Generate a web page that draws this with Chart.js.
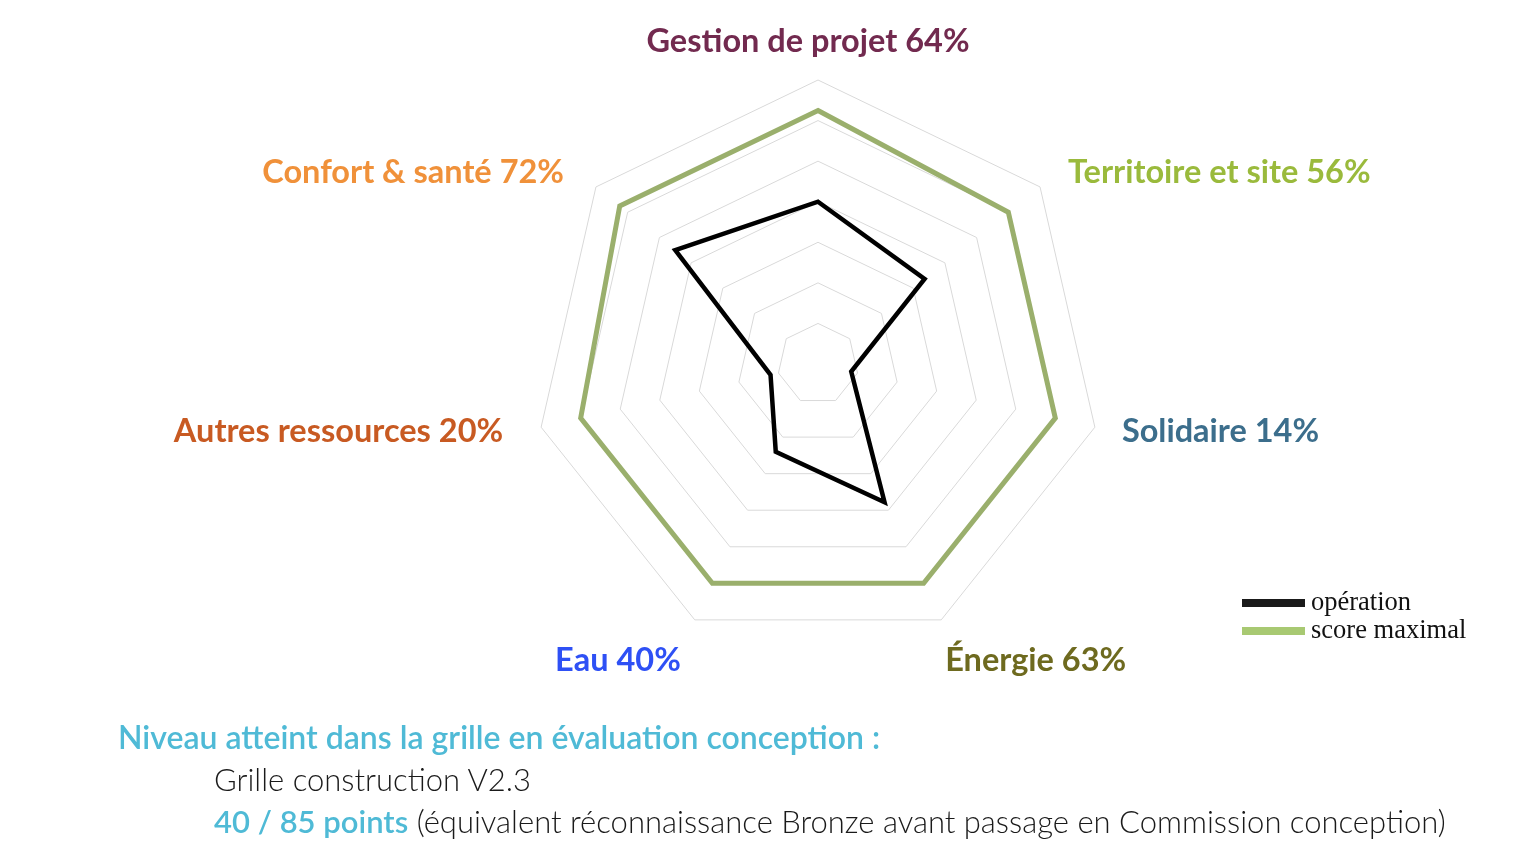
<!DOCTYPE html>
<html>
<head>
<meta charset="utf-8">
<title>Radar</title>
<script src="https://cdn.jsdelivr.net/npm/chart.js@4"></script>
<style>
  html, body { margin: 0; padding: 0; background: #fff; }
  #wrap { position: relative; width: 1528px; height: 864px; overflow: hidden; }
  #radar { position: absolute; left: 0; top: 0; }
  .note { position: absolute; font-family: Lato, "Open Sans", sans-serif; white-space: nowrap; }
  #n1 { left: 118px; top: 717px; font-size: 32px; font-weight: 600; color: #4fbad6; }
  #n2 { left: 214px; top: 760px; font-size: 31px; font-weight: 300; color: #1a1a1a; }
  #n3 { left: 214px; top: 802px; font-size: 31px; font-weight: 300; color: #1a1a1a; }
  #n3 b { font-weight: 600; color: #4fbad6; }
</style>
</head>
<body>
<div id="wrap">
  <canvas id="radar" width="1528" height="864"></canvas>
  <div class="note" id="n1">Niveau atteint dans la grille en évaluation conception :</div>
  <div class="note" id="n2">Grille construction V2.3</div>
  <div class="note" id="n3"><b>40 / 85 points</b> (équivalent réconnaissance Bronze avant passage en Commission conception)</div>
</div>
<script>
const categories = ["Gestion de projet", "Territoire et site", "Solidaire", "Énergie", "Eau", "Autres ressources", "Confort & santé"];
const operation = [8, 6.72, 1.68, 7.56, 4.8, 2.4, 9];
const scoreMax = [12.5, 12, 12, 12, 12, 12, 12.5];
const labelColors = ["#722a4f", "#9aba3c", "#3c6e8c", "#6e6a1f", "#2e50f5", "#c85a22", "#f0913a"];
const seriesNames = ["opération", "score maximal"];

// label placement relative to the outer ring vertex
const labelOffsets = [
    { dx: -10, dy: -38, align: "center" },
    { dx: 28, dy: -14, align: "left" },
    { dx: 27, dy: 4, align: "left" },
    { dx: 4, dy: 41, align: "left" },
    { dx: -14, dy: 41, align: "right" },
    { dx: -38, dy: 4, align: "right" },
    { dx: -32, dy: -14, align: "right" }
];

const axisLabels = {
    id: "axisLabels",
    afterDraw(chart) {
        const scale = chart.scales.r;
        const ctx = chart.ctx;
        ctx.save();
        ctx.font = "bold 32.5px Lato, 'Open Sans', sans-serif";
        ctx.textBaseline = "middle";
        categories.forEach((name, i) => {
            const p = scale.getPointPosition(i, scale.drawingArea);
            const o = labelOffsets[i];
            const pct = Math.round(operation[i] / scoreMax[i] * 100);
            ctx.fillStyle = labelColors[i];
            ctx.textAlign = o.align;
            ctx.fillText(name + " " + pct + "%", p.x + o.dx, p.y + o.dy);
        });
        ctx.restore();
    }
};

const sideLegend = {
    id: "sideLegend",
    afterDraw(chart) {
        const ctx = chart.ctx;
        ctx.save();
        ctx.font = "26.5px 'Liberation Serif', 'DejaVu Serif', serif";
        ctx.textBaseline = "middle";
        ctx.textAlign = "left";
        chart.data.datasets.forEach((ds, i) => {
            const y = 603 + i * 28;
            ctx.fillStyle = ds.legendColor;
            ctx.fillRect(1242, y - 4, 63, 8);
            ctx.fillStyle = "#111";
            ctx.fillText(ds.label, 1311, y);
        });
        ctx.restore();
    }
};

new Chart(document.getElementById("radar").getContext("2d"), {
    type: "radar",
    data: {
        labels: categories,
        datasets: [{
            label: seriesNames[0],
            data: operation,
            borderColor: "#000000",
            legendColor: "#1a1a1a",
            borderWidth: 4.5,
            fill: false,
            pointRadius: 0,
            tension: 0
        }, {
            label: seriesNames[1],
            data: scoreMax,
            borderColor: "#9aaf6c",
            legendColor: "#a8c972",
            borderWidth: 5,
            fill: false,
            pointRadius: 0,
            tension: 0
        }]
    },
    options: {
        responsive: false,
        animation: false,
        layout: { padding: { left: 534, right: 426, top: 80, bottom: 216 } },
        plugins: { legend: { display: false }, tooltip: { enabled: false } },
        scales: {
            r: {
                min: 0,
                max: 14,
                ticks: { display: false, stepSize: 2 },
                grid: { color: "#d9d9d9", lineWidth: 1 },
                angleLines: { display: false },
                pointLabels: { display: false }
            }
        }
    },
    plugins: [axisLabels, sideLegend]
});
</script>
</body>
</html>
